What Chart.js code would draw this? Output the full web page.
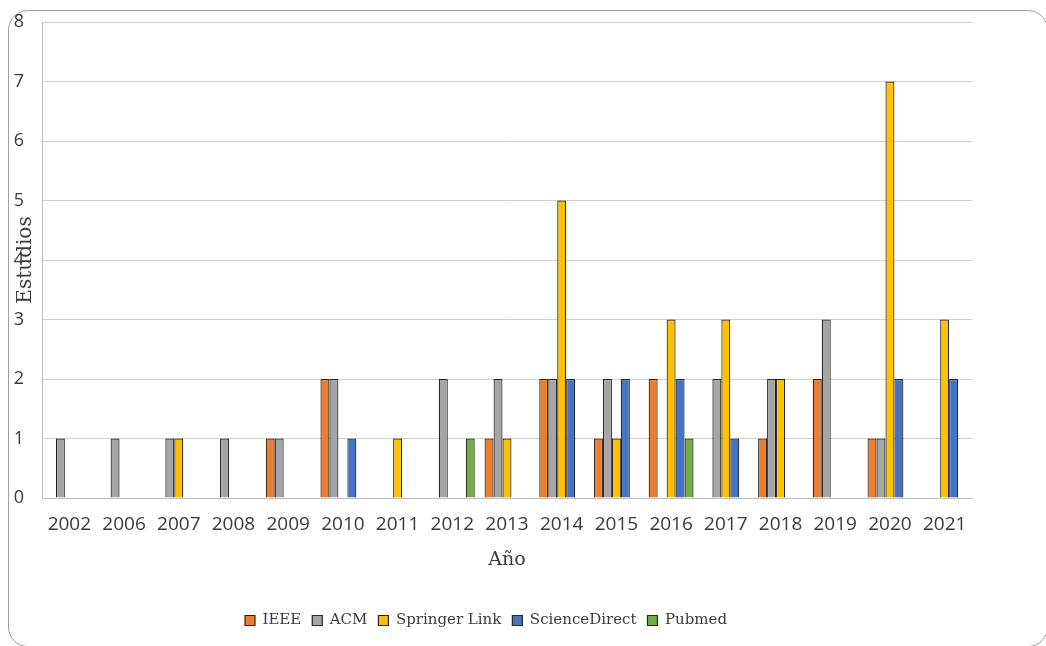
<!DOCTYPE html>
<html lang="es">
<head>
<meta charset="utf-8">
<title>Estudios por año</title>
<script src="https://cdn.jsdelivr.net/npm/chart.js@4/dist/chart.umd.min.js"></script>
<style>
    html, body {
        margin: 0;
        padding: 0;
        background: #ffffff;
        overflow: hidden;
    }
    .frame {
        position: absolute;
        left: 8px;
        top: 10px;
        width: 1040px;
        height: 637px;
        border: 1.5px solid #a0a0a0;
        border-radius: 20px;
        box-sizing: border-box;
    }
    .wrap {
        position: absolute;
        left: 0;
        top: 0;
        width: 1046px;
        height: 646px;
    }
</style>
</head>
<body>
<div class="frame"></div>
<div class="wrap"><canvas id="studiesChart" width="1046" height="646"></canvas></div>
<script>
const years = ['2002', '2006', '2007', '2008', '2009', '2010', '2011', '2012', '2013',
               '2014', '2015', '2016', '2017', '2018', '2019', '2020', '2021'];

// studies found per source and year
const ieee          = [0, 0, 0, 0, 1, 2, 0, 0, 1, 2, 1, 2, 0, 1, 2, 1, 0];
const acm           = [1, 1, 1, 1, 1, 2, 0, 2, 2, 2, 2, 0, 2, 2, 3, 1, 0];
const springerLink  = [0, 0, 1, 0, 0, 0, 1, 0, 1, 5, 1, 3, 3, 2, 0, 7, 3];
const scienceDirect = [0, 0, 0, 0, 0, 1, 0, 0, 0, 2, 2, 2, 1, 0, 0, 2, 2];
const pubmed        = [0, 0, 0, 0, 0, 0, 0, 1, 0, 0, 0, 1, 0, 0, 0, 0, 0];

const yTicks = [0, 1, 2, 3, 4, 5, 6, 7, 8];

const textColor = '#3a3a3a';
const serif = "'DejaVu Serif', 'Liberation Serif', serif";
const sans = "'Open Sans', 'Noto Sans', sans-serif";

function series(label, data, color) {
    return {
        label: label,
        data: data,
        backgroundColor: color,
        borderColor: '#262626',
        borderWidth: 1.2,
        borderSkipped: 'start',
        categoryPercentage: 0.82,
        barPercentage: 1.0
    };
}

const ctx = document.getElementById('studiesChart').getContext('2d');

new Chart(ctx, {
    type: 'bar',
    data: {
        labels: years,
        datasets: [
            series('IEEE', ieee, '#ED7D31'),
            series('ACM', acm, '#A5A5A5'),
            series('Springer Link', springerLink, '#FFC000'),
            series('ScienceDirect', scienceDirect, '#4472C4'),
            series('Pubmed', pubmed, '#70AD47')
        ]
    },
    options: {
        responsive: false,
        animation: false,
        layout: {
            padding: { top: 22, right: 74, bottom: 8, left: 0 }
        },
        plugins: {
            tooltip: { enabled: false },
            legend: {
                position: 'bottom',
                labels: {
                    color: textColor,
                    font: { family: serif, size: 15 },
                    boxWidth: 10,
                    boxHeight: 10,
                    padding: 11
                }
            }
        },
        scales: {
            x: {
                grid: { display: false, drawTicks: false },
                border: { display: true, color: '#bfbfbf', width: 1 },
                ticks: {
                    color: textColor,
                    font: { family: sans, size: 19 },
                    padding: 15,
                    maxRotation: 0,
                    autoSkip: false
                },
                title: {
                    display: true,
                    text: 'Año',
                    color: textColor,
                    font: { family: serif, size: 19 },
                    padding: { top: 4, bottom: 31 }
                },
                afterFit: scale => { scale.height = 104; }
            },
            y: {
                min: 0,
                max: 8,
                afterBuildTicks: scale => {
                    scale.ticks = yTicks.map(v => ({ value: v }));
                },
                grid: { color: '#d0d0d0', lineWidth: 1, drawTicks: false },
                border: { display: true, color: '#bfbfbf', width: 1 },
                ticks: {
                    color: textColor,
                    font: { family: sans, size: 18 },
                    padding: 18
                },
                title: {
                    display: true,
                    text: 'Estudios',
                    color: textColor,
                    font: { family: serif, size: 20 },
                    padding: { top: 14, bottom: 0 }
                },
                afterFit: scale => {
                    // keep the tick padding from pushing the plot down
                    scale.width = 42;
                    scale.paddingTop = 0;
                    scale.paddingBottom = 0;
                }
            }
        }
    }
});
</script>
</body>
</html>
